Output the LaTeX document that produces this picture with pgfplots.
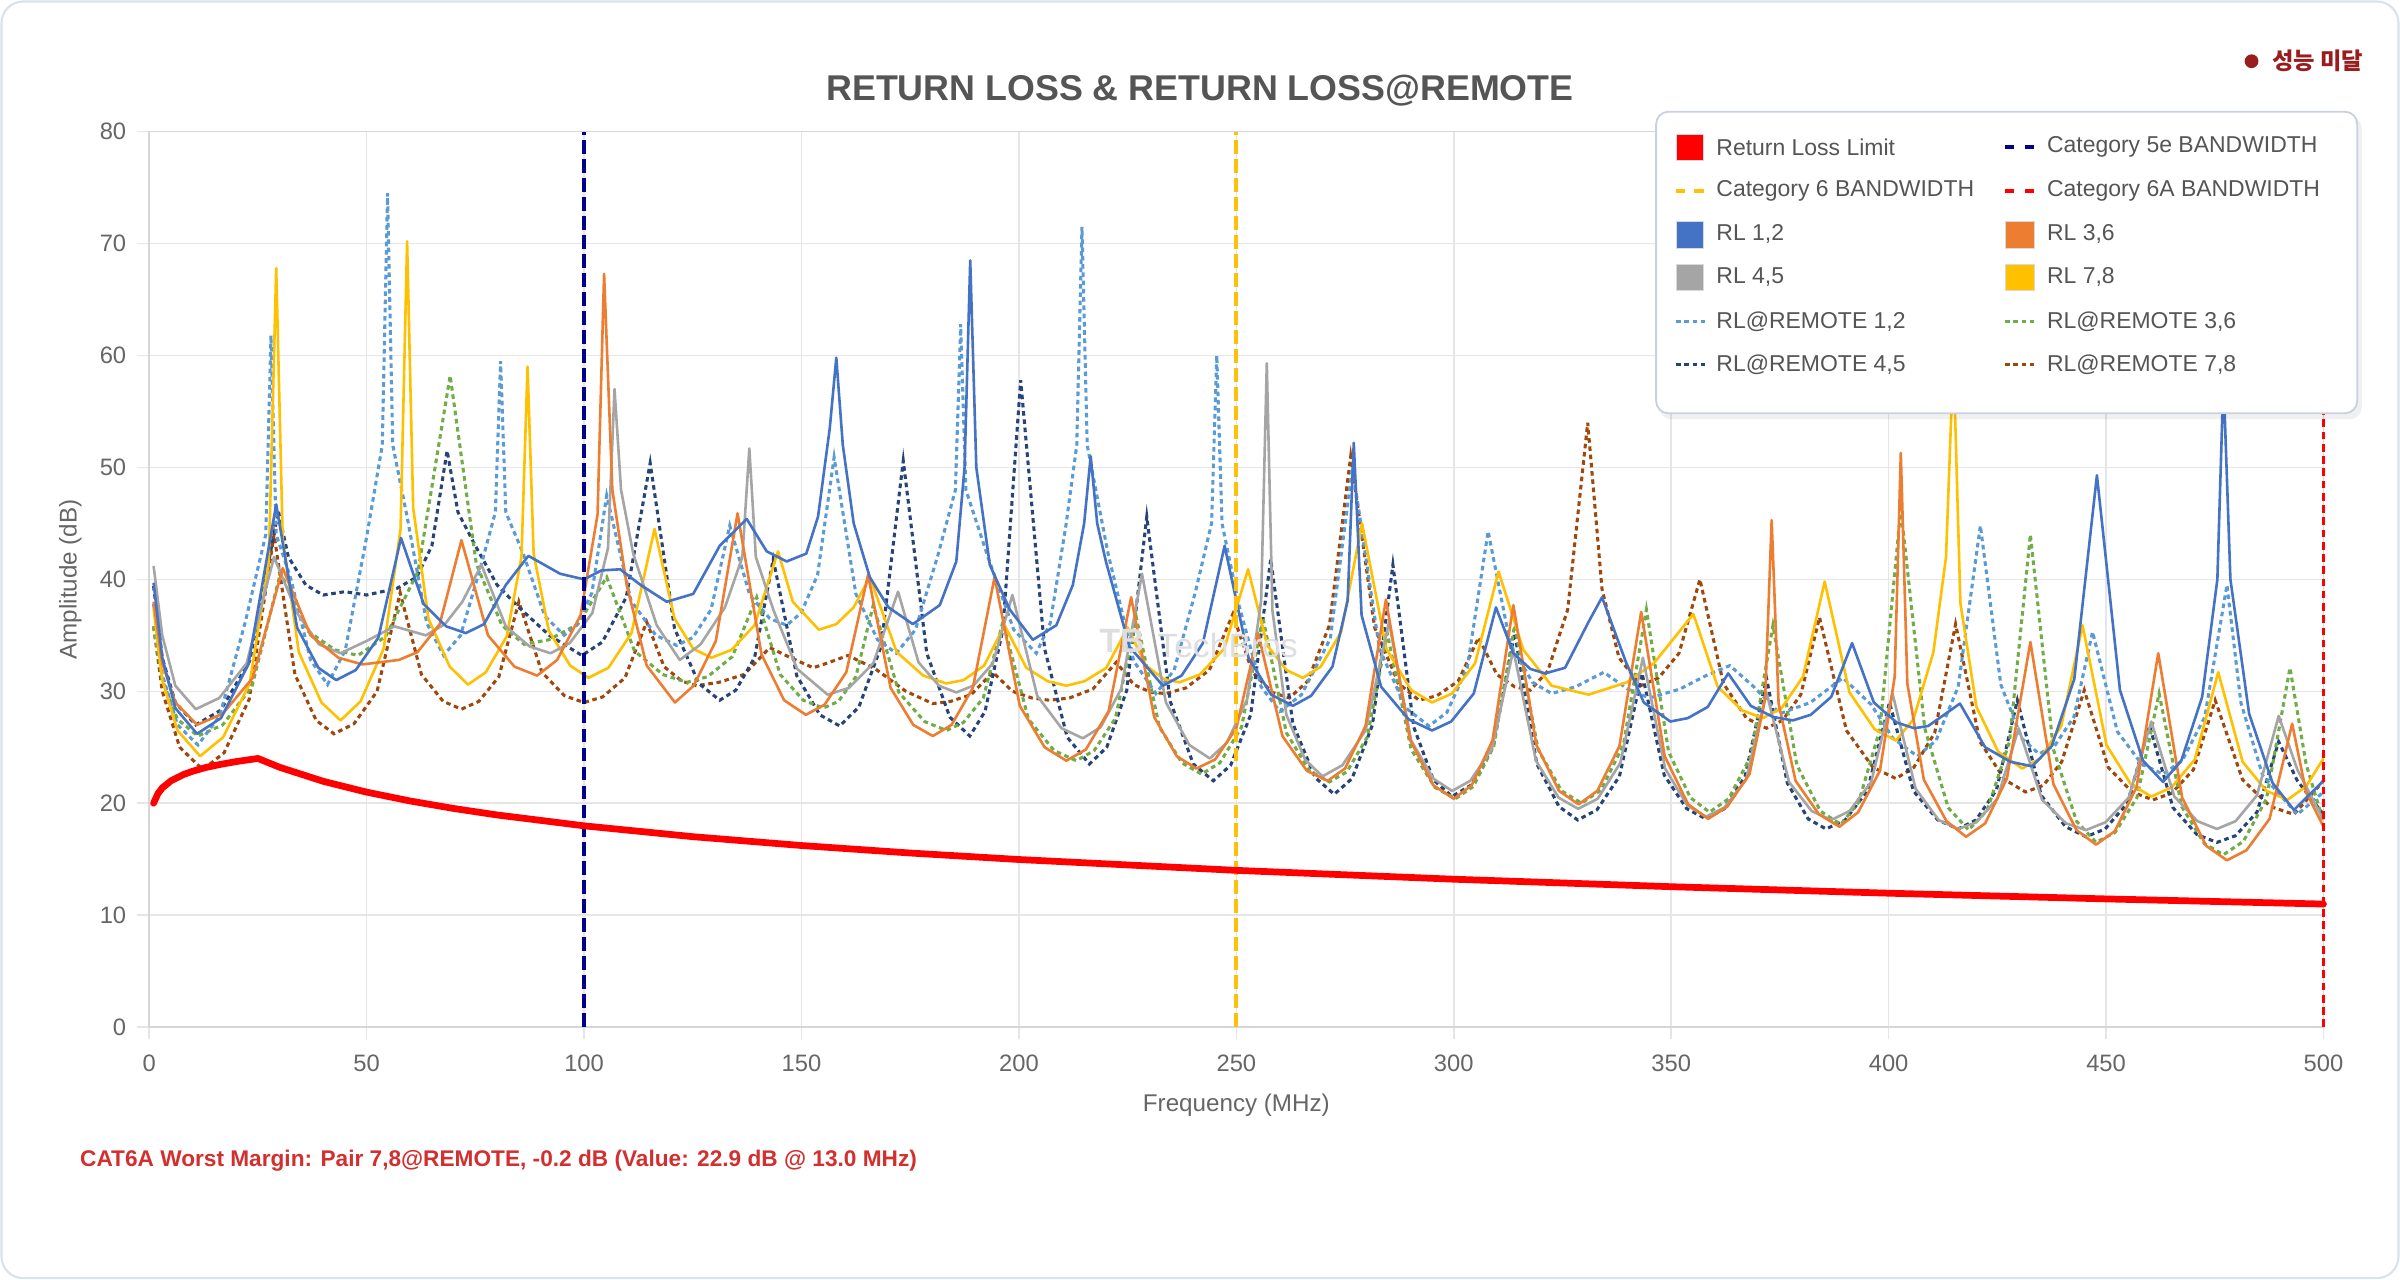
\documentclass[border=0pt]{standalone}
\usepackage{pgfplots}
\pgfplotsset{compat=1.18}
\usepackage{fontspec}
\setmainfont{Liberation Sans}
\newfontfamily\kr{Noto Sans CJK KR}
\definecolor{rl12}{HTML}{4472C4}
\definecolor{rl36}{HTML}{ED7D31}
\definecolor{rl45}{HTML}{A5A5A5}
\definecolor{rl78}{HTML}{FFC000}
\definecolor{rr12}{HTML}{5B9BD5}
\definecolor{rr36}{HTML}{70AD47}
\definecolor{rr45}{HTML}{264478}
\definecolor{rr78}{HTML}{9E480E}
\definecolor{navyline}{HTML}{00008B}
\definecolor{goldline}{HTML}{FFC107}
\definecolor{titlegray}{HTML}{555555}
\definecolor{tickgray}{HTML}{666666}
\definecolor{gridgray}{HTML}{E6E6E6}
\definecolor{axisgray}{HTML}{D6D6D6}
\definecolor{warnred}{HTML}{D32F2F}
\definecolor{darkred}{HTML}{9B1C1C}
\definecolor{cardborder}{HTML}{DCE2EA}
\definecolor{legborder}{HTML}{C9D1DE}
\definecolor{legtext}{HTML}{555555}
\begin{document}
\begin{tikzpicture}
\begin{scope}[x=0.5pt,y=-0.5pt]
\path[use as bounding box] (0,0) rectangle (1568,836);
\fill[white] (0,0) rectangle (1568,836);
\draw[cardborder, line width=0.7pt, rounded corners=7pt] (1,1) rectangle (1567,835);
\end{scope}
\begin{axis}[
  at={(48.75pt,-335.5pt)}, anchor=south west,
  scale only axis, width=710.25pt, height=292.5pt,
  xmin=0, xmax=500, ymin=0, ymax=80,
  xtick={0,50,...,500}, ytick={0,10,...,80},
  grid=major, major grid style={draw=gridgray, line width=0.5pt},
  axis line style={draw=axisgray, line width=0.5pt},
  tick style={draw=gridgray, line width=0.5pt},
  tick align=outside, major tick length=4pt,
  xtick pos=left, ytick pos=left,
  tick label style={font=\fontsize{7.75pt}{9pt}\selectfont, text=tickgray},
  /pgf/number format/assume math mode=true,
  /pgf/number format/1000 sep={},
  xticklabel style={yshift=-1.5pt},
  xlabel={Frequency (MHz)}, ylabel={Amplitude (dB)},
  label style={font=\fontsize{7.9pt}{9pt}\selectfont, text=tickgray},
  xlabel style={at={(axis description cs:0.5,-0.0875)}, anchor=center},
  ylabel style={at={(axis description cs:-0.0363,0.5)}, anchor=center},
  clip=false,
]
% RL@REMOTE 7,8
\addplot[rr78, line width=1pt, dash pattern=on 1.5pt off 1.2pt] coordinates {
(1,35.8) (3,30) (7,25) (12.3,23) (17.2,24.5) (23,29.3) (28.7,44) (33.5,31.5) (38.4,27.4) (42.5,26.2) (47.1,27.1) (52.4,30) (57.7,38.8) (62.6,31.5) (67.6,29.1) (71.8,28.4) (75.8,29.1) (80.4,31.3) (85,38) (90.3,31.7) (95.5,29.6) (100,29) (104.3,29.5) (109.4,31.2) (114.4,36.2) (118.4,32.2) (122.5,30.9) (125.9,30.5) (131,30.8) (136.8,31.5) (142.7,33.9) (147.5,33) (152.7,32.1) (156.5,32.6) (160.7,33.2) (167,32) (174,30) (180.2,28.9) (184.3,29.1) (189,29.7) (194,31.7) (198.5,30) (203,29.4) (207,29.2) (211.6,29.4) (217,30.2) (222.4,32.6) (226.4,30.6) (230.4,29.9) (233.8,29.8) (238.4,30.3) (243.8,31.9) (249.2,36.9) (253.7,31.7) (258.3,29.9) (262.2,29.4) (266.4,30.9) (271.4,35.9) (276.3,51) (281.8,35.7) (287.3,30.7) (292,29.2) (296.1,29.6) (301,30.9) (305.7,34.8) (309.9,31.5) (314,30.4) (317.6,30.1) (321.6,31.8) (326.2,37.3) (330.8,54) (334.1,39.1) (338,33) (343,30.5) (347.1,31.2) (351.8,33.4) (356.6,40) (362,30.7) (367.3,27.6) (371.9,26.7) (375.6,27.4) (379.8,29.7) (384.1,36.6) (390.3,26.5) (396.4,23.2) (401.7,22.2) (405.8,23.2) (410.6,26.3) (415.4,36) (421,25.5) (426.7,22.1) (431.5,21) (435.6,21.6) (439.8,23.7) (445,30.1) (450.5,23.2) (456,21) (460.8,20.3) (465.1,20.9) (470.1,23) (475.1,29.2) (481.4,22.1) (487.8,19.7) (493.2,19) (500,22)
};
% RL@REMOTE 4,5
\addplot[rr45, line width=1pt, dash pattern=on 1.5pt off 1.2pt] coordinates {
(1,39.4) (3,33) (6,29) (10.7,27) (16.4,28.3) (23.1,32.7) (29.7,46.1) (32,42) (36,39.5) (40,38.6) (45,38.9) (50,38.6) (57,39.2) (61.5,40.2) (65,43) (68.5,51.5) (71,46) (75,43) (80,39.5) (85,37.5) (92,35) (99.5,33.2) (104.2,34.4) (109.7,38.4) (115.2,50.4) (120.8,35.6) (126.4,30.7) (131.2,29.2) (134.9,30.1) (139.2,33) (143.5,41.8) (148.9,31.4) (154.2,27.9) (158.8,26.9) (163.2,28.6) (168.3,34) (173.4,50.6) (178.8,33.4) (184.1,27.7) (188.7,26) (192.2,28.2) (196.3,35.5) (200.4,57.8) (205.9,33.8) (211.1,25.9) (216.2,23.5) (220.2,25) (224.8,30.1) (229.4,45.6) (234.8,29.1) (240.1,23.5) (244.7,22) (248.7,23.4) (253.3,27.9) (257.9,41.8) (263,27.1) (268.1,22.3) (272.5,20.8) (276.6,22.2) (281.3,27) (286,41.3) (290.8,26.8) (295.3,22.1) (299.6,20.6) (303.9,21.6) (309,25) (314,35.2) (319.1,23.5) (324.2,19.7) (328.5,18.5) (332.9,19.4) (338.1,22.4) (343.3,31.6) (348.4,22.5) (353.6,19.5) (358,18.6) (362.2,19.5) (367,22.4) (371.9,31.2) (376.7,21.8) (381.5,18.6) (385.6,17.7) (390,18.5) (395.1,21.1) (400.2,29) (405.7,21.1) (411.3,18.5) (416,17.7) (420.1,18.5) (424.8,21.2) (429.6,29.2) (435.1,20.7) (440.7,17.9) (445.4,17) (449.8,17.7) (454.9,20) (460,26.9) (465.4,19.6) (470.9,17.2) (475.5,16.5) (479.8,17.1) (484.7,19.2) (489.7,25.5) (494,22) (500,19)
};
% RL@REMOTE 3,6
\addplot[rr36, line width=1pt, dash pattern=on 1.5pt off 1.2pt] coordinates {
(1,35.8) (3,31) (6.5,27.5) (11.2,26) (16.9,27) (23.6,30.4) (30.2,40.6) (36.4,35.4) (42.7,33.7) (48,33.2) (54.4,34.9) (61.8,40.7) (69.2,58.2) (75.2,41.4) (81.1,35.9) (86.2,34.2) (91.9,34.6) (98.6,36) (105.2,40.2) (111.6,33.6) (118.1,31.5) (123.6,30.8) (128.4,31.3) (134.1,33.1) (139.7,38.4) (145.1,31.5) (150.4,29.2) (155,28.5) (158.5,29.1) (162.5,31.3) (166.5,37.7) (172.4,29.9) (178.3,27.3) (183.3,26.5) (187.2,27.2) (191.8,29.4) (196.3,36.2) (202.2,27.5) (208.1,24.7) (213.2,23.8) (217.3,24.7) (222.2,27.6) (227,36.6) (232.3,26.8) (237.5,23.6) (242,22.6) (246.2,23.6) (251.2,26.8) (256.1,36.6) (261.5,26.3) (266.8,22.9) (271.4,21.9) (275.4,22.8) (280.1,25.9) (284.7,35.2) (290.2,24.8) (295.7,21.4) (300.4,20.4) (304.5,21.5) (309.2,25.1) (314,35.9) (319.4,24.8) (324.8,21.1) (329.4,20) (333.9,21.2) (339,25.2) (344.3,37.3) (349.4,24.6) (354.4,20.5) (358.8,19.2) (363.2,20.4) (368.3,24.2) (373.4,35.9) (378.9,23.4) (384.3,19.3) (389,18.1) (393.1,20.1) (398,26.6) (402.8,46.3) (408.3,26.7) (413.7,19.6) (418.4,17.6) (422.7,19.4) (427.8,25.5) (432.6,44) (437.9,24.8) (443.2,18.4) (447.7,16.5) (452.1,17.4) (457.1,20.5) (462.2,29.8) (467.4,19.7) (472.6,16.4) (477,15.4) (481.6,16.6) (486.9,20.4) (492.3,32.1) (496,23.5) (500,18.3)
};
% RL@REMOTE 1,2
\addplot[rr12, line width=1pt, dash pattern=on 1.5pt off 1.2pt] coordinates {
(1,37.8) (3,31.5) (6.5,27) (11.2,25.2) (16.2,27.8) (22.1,36.2) (26.8,44) (28,61.8) (29.2,44) (32.6,40) (37.1,32.8) (41,30.6) (45.1,33.7) (50,43.8) (53.6,52) (54.8,74.5) (56,52) (59.3,45.6) (63.8,36.1) (67.7,33.2) (71.6,35) (76.2,41.1) (79.6,46) (80.8,59.5) (82,46) (85.9,42.4) (91,36.7) (95.4,35) (98.3,35.9) (101.8,38.8) (105.2,47.5) (110.8,38.1) (116.5,35) (121.3,34.1) (125,34.8) (129.2,37.3) (133.5,44.8) (138.1,38.6) (142.7,36.5) (146.6,35.9) (149.9,37) (153.7,40.4) (157.5,50.9) (162.5,38.7) (167.5,34.6) (171.8,33.4) (176.2,35.5) (181.4,42.2) (185.4,48) (186.6,62.8) (187.8,48) (192.7,42.2) (198.8,35.5) (204,33.4) (207.2,36.1) (210.8,44.8) (213.3,52) (214.5,71.5) (215.7,52) (220.5,42.3) (226.4,32.7) (231.5,29.8) (235.7,31.9) (240.6,38.9) (244.3,45) (245.5,60) (246.7,45) (250.6,37.7) (255.7,30.4) (260,28.2) (265,29.7) (271.6,34.7) (276.7,50) (282.9,33.8) (289,28.5) (294.3,26.9) (298.4,28.1) (303.1,32.1) (307.9,44.3) (313,34.2) (318.1,30.8) (322.5,29.8) (328,30.4) (334.5,31.7) (340,30.2) (345,29.4) (352,30.2) (358,31.4) (363.5,32.3) (369,30.4) (375,28) (382,29) (389.5,31.2) (396,28.8) (401,25.8) (406.6,24.2) (410.9,25.6) (416,30.4) (421.1,44.8) (425.8,30.6) (430.6,25.8) (434.6,24.4) (438.3,25.2) (442.6,27.7) (446.9,35.3) (452.6,26.4) (458.2,23.5) (463.1,22.6) (467.5,23.8) (472.7,27.7) (477.8,39.5) (481,29) (486,22.5) (494,19) (500,21)
};
% RL 7,8
\addplot[rl78, line width=0.85pt, line join=round] coordinates {
(1,37.4) (3,31) (6.5,26.5) (11.7,24.2) (17,25.9) (23.1,30.7) (27.5,41.6) (29.2,67.8) (30.7,43.6) (34.4,33.5) (39.6,29) (44,27.4) (48.6,29.1) (53.9,33.8) (57.8,44.5) (59.3,70.2) (60.7,46.4) (64.2,36.5) (69.1,32.2) (73.3,30.6) (77.4,31.7) (82.2,34.9) (85.6,42) (87,59) (88.4,42.3) (91.9,35.4) (96.8,32.3) (101,31.2) (105.6,32.1) (110.9,35.2) (116.2,44.5) (120.8,36.5) (125.1,33.8) (129.3,33) (133.9,33.7) (139.2,35.9) (144.6,42.5) (148,38) (154,35.5) (158,36) (162,37.5) (165.7,40.2) (171.9,33.5) (178,31.4) (183.3,30.7) (187.3,31) (192,32.3) (196.7,35.9) (201.7,32.1) (206.6,30.9) (210.9,30.5) (215.1,30.9) (220.1,32.1) (225,35.7) (229.2,32.3) (233.3,31.1) (236.9,30.8) (241.6,31.5) (247.2,33.8) (252.7,40.9) (257.1,34.1) (261.5,31.9) (265.3,31.2) (269.4,32.2) (274.1,35.3) (278.9,45) (284.5,33.8) (290.2,30.1) (295,29) (299.6,29.8) (304.9,32.5) (310.3,40.7) (316,33.7) (322.5,30.5) (331,29.7) (339.8,30.8) (346,32.5) (355.1,36.9) (360.7,30.4) (366.3,28.3) (371.1,27.6) (375.4,28.5) (380.3,31.3) (385.3,39.8) (391,29.9) (396.8,26.6) (401.7,25.6) (405.7,27.5) (410.3,33.5) (413.2,42) (414.9,60) (416.5,37.9) (420.2,28.6) (425.2,24.6) (430.7,23.1) (434.9,24) (439.7,26.9) (444.6,35.9) (450.1,25.2) (455.7,21.7) (460.4,20.6) (465,21.4) (470.4,23.9) (475.8,31.7) (481.4,23.7) (486.9,21.1) (491.7,20.3) (496,21.5) (500,24)
};
% RL 4,5
\addplot[rl45, line width=0.85pt, line join=round] coordinates {
(1,41.2) (3,35) (6,30.5) (10.7,28.4) (16.1,29.4) (22.4,32.5) (28.7,42) (34,37) (39,34.2) (44,33.4) (50,34.5) (56.4,35.8) (63.6,35) (68,36) (72,38) (76.4,41.3) (82,35.8) (87.5,34) (92.3,33.4) (96.7,34.3) (101.9,37) (105.5,42.8) (107,57) (108.5,48) (111.3,42.3) (116.7,35.9) (122,32.8) (126.8,34.2) (132.4,37.5) (136.4,42) (138,51.7) (139.5,42) (143.5,37.3) (149,32) (156,29.7) (160.9,30.3) (166.5,32.5) (172.2,38.9) (176.9,32.6) (181.6,30.5) (185.6,29.9) (189.5,30.5) (194,32.5) (198.5,38.6) (204.2,29.6) (209.8,26.7) (214.7,25.8) (218.8,26.8) (223.5,30.2) (228.3,40.5) (233.8,29) (239.2,25.2) (243.9,24) (247.8,25.4) (252.5,29.3) (255.7,38.1) (257,59.3) (258.3,37.2) (261.5,27.9) (265.8,23.9) (269.8,22.4) (274.4,23.4) (279.7,26.5) (285.1,36.2) (290.2,25.6) (295.3,22.2) (299.6,21.1) (303.8,22) (308.8,24.9) (313.7,33.7) (318.9,23.8) (324.1,20.5) (328.6,19.5) (333.1,20.4) (338.3,23.6) (343.5,33) (348.6,23.1) (353.7,19.8) (358,18.8) (362.2,19.6) (367.2,22.1) (371.9,29.9) (377.1,21.9) (382.3,19.3) (386.8,18.5) (391,19.3) (396,21.9) (400.9,29.8) (406.2,21.3) (411.5,18.5) (416,17.7) (420.2,18.3) (425,20.4) (429.9,26.7) (435.3,20.3) (440.8,18.2) (445.4,17.6) (449.9,18.3) (455.2,20.5) (460.4,27.3) (465.7,20.6) (471,18.4) (475.5,17.7) (479.8,18.4) (484.7,20.7) (489.7,27.8) (494,23) (500,18.5)
};
% RL 3,6
\addplot[rl36, line width=0.85pt, line join=round] coordinates {
(1,38) (3,32.5) (6,29) (11,27) (16.9,28) (23.8,31.2) (30.7,41) (37.1,35) (43.5,33) (49,32.4) (57.4,32.8) (61.7,33.5) (66.8,36) (71.8,43.5) (77.9,35) (84,32.2) (89.2,31.4) (93.8,32.8) (99.2,36.8) (103.1,45.8) (104.6,67.3) (106.5,48) (109.8,39.5) (114.4,32.3) (120.9,29) (125.2,30.5) (130.3,34.5) (135.3,45.9) (140.8,33.3) (146,29.2) (151,27.9) (155.3,28.8) (160.3,31.7) (165.3,40.4) (170.5,30.3) (175.7,27) (180.2,26) (184.5,27) (189.4,30.3) (194.4,40.2) (200.2,28.7) (205.9,25) (210.9,23.8) (215.4,24.8) (220.6,28.2) (225.8,38.4) (231.1,27.7) (236.3,24.2) (240.8,23.1) (245.1,23.9) (250,26.7) (255,35.2) (260.6,26) (266.2,22.9) (271,22) (275,23.1) (279.7,26.9) (284.4,38.2) (289.9,25.7) (295.3,21.6) (300,20.4) (304.1,21.6) (308.9,25.6) (313.7,37.7) (319,25.2) (324.2,21.1) (328.7,19.9) (333,21.1) (338.1,25.1) (343.1,37.1) (348.5,24.2) (353.9,19.9) (358.5,18.6) (362.9,19.7) (368,22.6) (371.6,29.3) (373.1,45.3) (374.7,28.9) (378.6,22) (384,19) (388.7,17.9) (393,19.2) (398,22.9) (401.4,31.3) (402.8,51.3) (404.3,30.7) (408.1,22.1) (413.3,18.4) (417.8,17) (422.2,18.2) (427.2,22.2) (432.6,34.4) (437.9,21.7) (443.2,17.6) (447.7,16.3) (452,17.5) (457,21.4) (462,33.4) (467.5,20.5) (473,16.2) (477.8,14.9) (482.3,15.8) (487.6,18.6) (492.8,27.1) (496,21) (500,17.9)
};
% RL 1,2
\addplot[rl12, line width=0.85pt, line join=round] coordinates {
(1,39.7) (3,33) (6,28.5) (11,26.2) (16.5,27.6) (22.8,32.4) (29.2,46.7) (34,35.7) (38.9,32.1) (43,31) (47.5,31.9) (52.7,34.8) (57.9,43.7) (63.1,37.8) (68.3,35.8) (72.8,35.2) (77,36) (82,39.5) (87.2,42.1) (94.5,40.5) (100,40) (104,40.8) (108.3,40.9) (113,39.5) (119,38) (125.1,38.7) (131.2,43) (137.4,45.4) (142,42.5) (146.6,41.6) (151.1,42.3) (153.8,45.6) (156.5,53.5) (158,59.8) (159.5,52) (162,45) (165.7,40.2) (170,37.5) (175.6,36) (181.8,37.7) (185.6,41.6) (187.5,50) (188.8,68.5) (190.2,50) (193.3,41.3) (197.9,37.3) (203.2,34.6) (208.6,35.9) (212.4,39.5) (215,45) (216.5,51) (218,45) (220,41.6) (225.4,34) (233.1,30.5) (237.4,31.4) (242.3,34.3) (247.3,43) (252.8,33) (258,29.7) (263,28.7) (267.2,29.6) (272.1,32.2) (275.6,38.1) (277,52.2) (278.8,36.8) (283.3,30.4) (289.6,27.5) (295,26.5) (299.4,27.3) (304.6,29.8) (309.7,37.5) (313.7,33.4) (317.6,32) (321,31.6) (325.6,32.1) (331,36.2) (334.1,38.4) (339.6,32.6) (343.7,29) (349.8,27.3) (353.8,27.6) (358.4,28.6) (363.1,31.6) (368.3,28.7) (373.5,27.7) (378,27.4) (382.1,27.9) (386.8,29.5) (391.6,34.3) (396.6,29) (401.9,27.2) (405.9,26.7) (409.1,26.9) (416.4,28.9) (422.2,25) (428,23.7) (433,23.3) (437.5,25.1) (442.7,31.1) (447.9,49.3) (453.2,30.1) (458.5,23.8) (463.1,21.9) (467.3,23.8) (472.1,29.5) (475.6,40) (477,58) (478.6,40) (482.9,28) (488.3,21.8) (493.2,19.4) (500,22)
};
% Category 6A bandwidth
\addplot[red, line width=0.8pt, dash pattern=on 2.5pt off 1.5pt] coordinates {(500,0) (500,80)};
% Category 6 bandwidth
\addplot[goldline, line width=1.3pt, dash pattern=on 4.5pt off 1.7pt] coordinates {(250,0) (250,80)};
% Category 5e bandwidth
\addplot[navyline, line width=1.4pt, dash pattern=on 4.5pt off 1.7pt] coordinates {(100,0) (100,80)};
% Return Loss Limit
\addplot[red, line width=2.2pt, line join=round, line cap=round] coordinates {
(1,20) (2,20.86) (3,21.37) (5,22) (8,22.58) (10,22.86) (13,23.19) (16,23.44) (20,23.72) (25,24) (30,23.21) (40,21.96) (50,20.99) (60,20.2) (70,19.53) (80,18.95) (100,17.98) (125,17.01) (150,16.22) (175,15.55) (200,14.97) (250,14) (300,13.21) (350,12.54) (400,11.96) (450,11.45) (500,10.99)
};
\end{axis}
\begin{scope}[x=0.5pt,y=-0.5pt]
% watermark
\node[text=black!13, font=\bfseries\fontsize{11pt}{13pt}\selectfont] at (733,419) {TB};
\node[text=black!13, font=\fontsize{11pt}{13pt}\selectfont] at (802,422) {TechBros};
% title
\node[text=titlegray, font=\bfseries\fontsize{11.7pt}{14pt}\selectfont] at (784,59) {RETURN LOSS \& RETURN LOSS@REMOTE};
% status
\fill[darkred] (1471,40) circle (4.5);
\node[anchor=west, text=darkred, font=\kr\bfseries\fontsize{7.6pt}{9pt}\selectfont, inner sep=0pt] at (1484,40) {성능 미달};
% bottom note
\node[anchor=west, text=warnred, font=\bfseries\fontsize{7.4pt}{9pt}\selectfont, inner sep=0pt] at (52,758) {CAT6A Worst Margin: Pair 7,8@REMOTE, -0.2 dB (Value: 22.9 dB @ 13.0 MHz)};
% legend
\fill[black, opacity=0.06, rounded corners=4pt] (1084,76) rectangle (1543,274);
\filldraw[fill=white, draw=legborder, line width=0.6pt, rounded corners=4pt] (1082,73) rectangle (1540,270);
\tikzset{legtxt/.style={anchor=west, text=legtext, font=\fontsize{7.5pt}{9pt}\selectfont, inner sep=0pt}}
% row 1
\filldraw[fill=red, draw=black!15, line width=0.3pt] (1095,88) rectangle (1113,105);
\node[legtxt] at (1121,96) {Return Loss Limit};
\draw[navyline, line width=1.3pt] (1310,96) -- (1316,96) (1323,96) -- (1329,96);
\node[legtxt] at (1337,96) {Category 5e BANDWIDTH};
% row 2
\draw[goldline, line width=1.3pt] (1095,125) -- (1101,125) (1107,125) -- (1113,125);
\node[legtxt] at (1121,125) {Category 6 BANDWIDTH};
\draw[red, line width=1.3pt] (1310,125) -- (1316,125) (1323,125) -- (1329,125);
\node[legtxt] at (1337,125) {Category 6A BANDWIDTH};
% row 3
\filldraw[fill=rl12, draw=black!15, line width=0.3pt] (1095,145) rectangle (1113,162);
\node[legtxt] at (1121,153) {RL 1,2};
\filldraw[fill=rl36, draw=black!15, line width=0.3pt] (1310,145) rectangle (1329,162);
\node[legtxt] at (1337,153) {RL 3,6};
% row 4
\filldraw[fill=rl45, draw=black!15, line width=0.3pt] (1095,173) rectangle (1113,190);
\node[legtxt] at (1121,181) {RL 4,5};
\filldraw[fill=rl78, draw=black!15, line width=0.3pt] (1310,173) rectangle (1329,190);
\node[legtxt] at (1337,181) {RL 7,8};
% row 5
\draw[rr12, line width=1pt, dash pattern=on 1.5pt off 1.2pt] (1095,210) -- (1114,210);
\node[legtxt] at (1121,210) {RL@REMOTE 1,2};
\draw[rr36, line width=1pt, dash pattern=on 1.5pt off 1.2pt] (1310,210) -- (1329,210);
\node[legtxt] at (1337,210) {RL@REMOTE 3,6};
% row 6
\draw[rr45, line width=1pt, dash pattern=on 1.5pt off 1.2pt] (1095,238) -- (1114,238);
\node[legtxt] at (1121,238) {RL@REMOTE 4,5};
\draw[rr78, line width=1pt, dash pattern=on 1.5pt off 1.2pt] (1310,238) -- (1329,238);
\node[legtxt] at (1337,238) {RL@REMOTE 7,8};
\end{scope}
\end{tikzpicture}
\end{document}
